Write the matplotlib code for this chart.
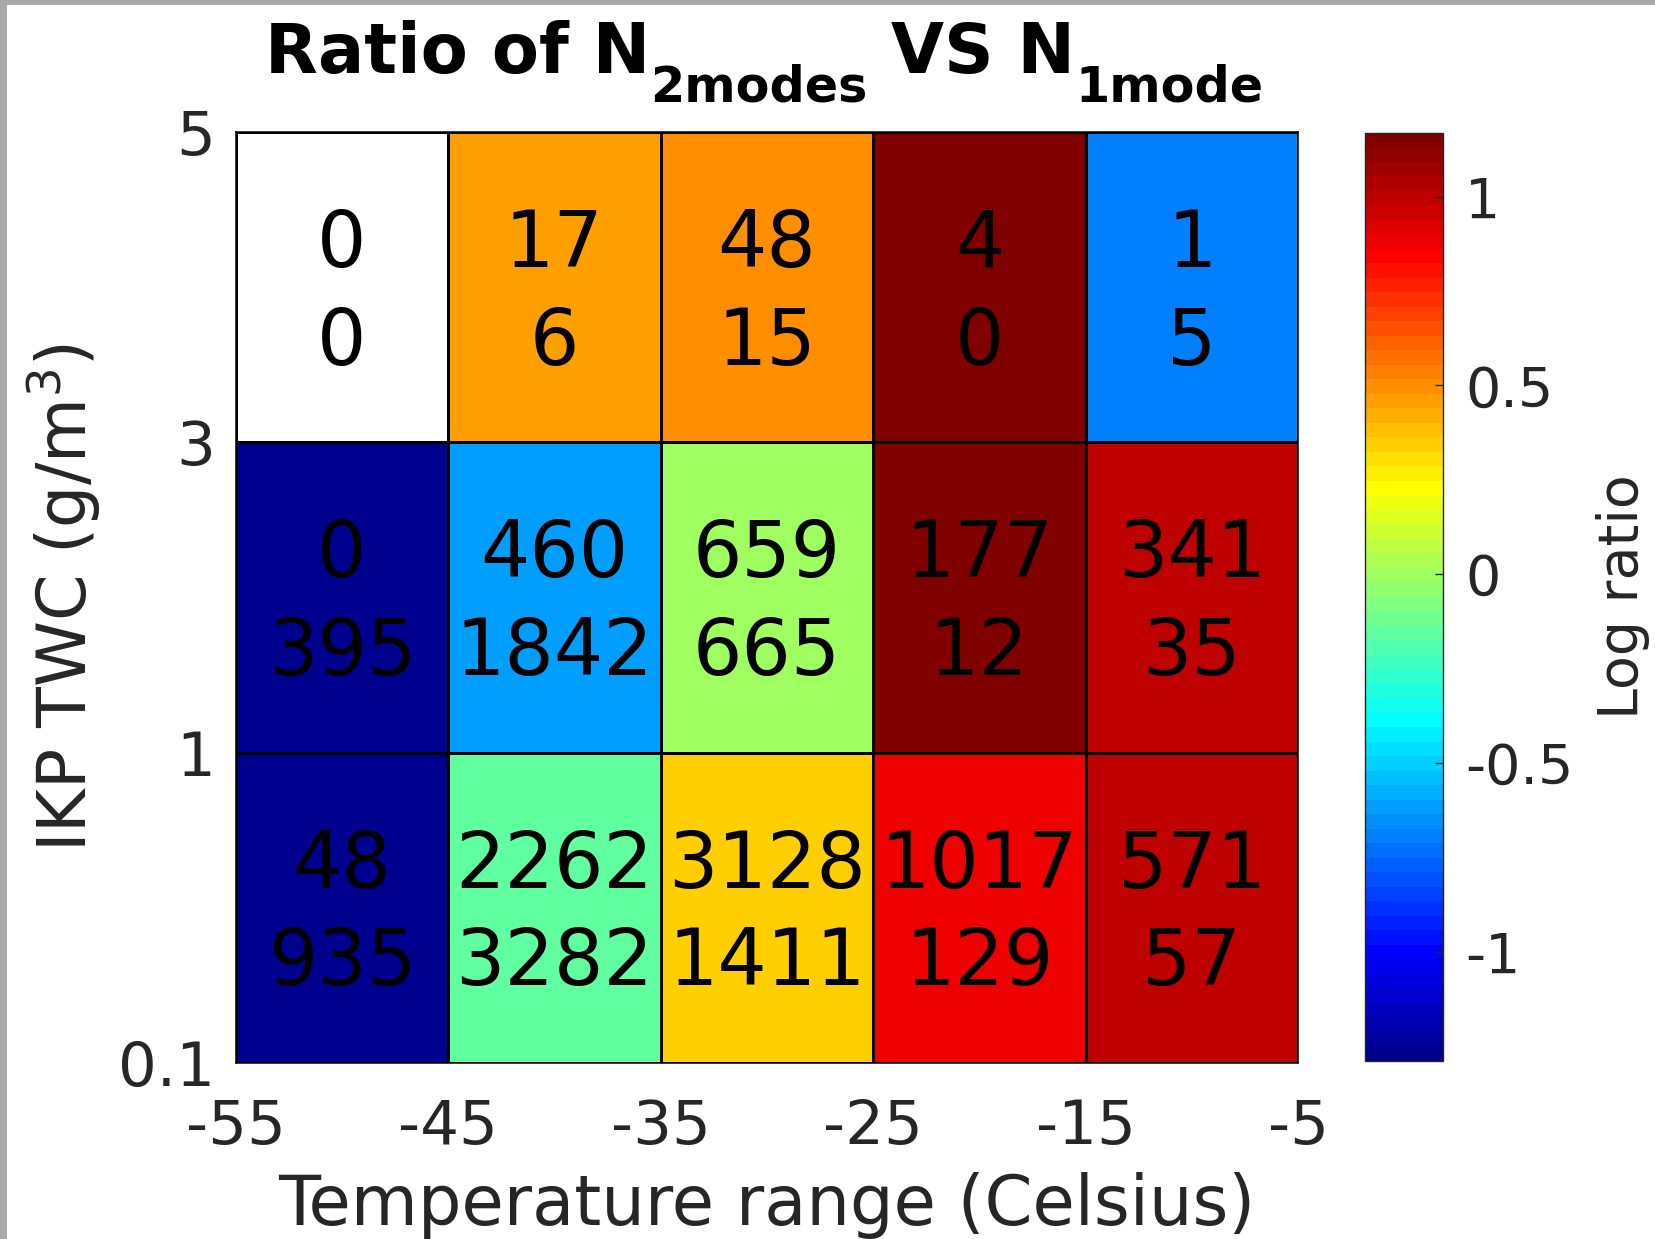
import numpy as np
import matplotlib

matplotlib.use("Agg")
import matplotlib.pyplot as plt
from matplotlib.colors import ListedColormap, Normalize
from matplotlib.patches import Rectangle
from matplotlib.transforms import IdentityTransform

plt.rcParams["font.family"] = "DejaVu Sans"
plt.rcParams["axes.unicode_minus"] = False
plt.rcParams["mathtext.fontset"] = "dejavusans"

# bin edges
temp_edges = [-55, -45, -35, -25, -15, -5]
twc_labels = ["0.1", "1", "3", "5"]

# counts per bin, rows go bottom (0.1-1) to top (3-5)
n_2modes = [
    [48, 2262, 3128, 1017, 571],
    [0, 460, 659, 177, 341],
    [0, 17, 48, 4, 1],
]
n_1mode = [
    [935, 3282, 1411, 129, 57],
    [395, 1842, 665, 12, 35],
    [0, 6, 15, 0, 5],
]

cbar_ticks = [-1, -0.5, 0, 0.5, 1]
cbar_tick_labels = ["-1", "-0.5", "0", "0.5", "1"]

INK = "#262626"
W, H, DPI = 1656, 1239, 100


def matlab_jet(m=64):
    """Same table as MATLAB's jet(m)."""
    n = int(np.ceil(m / 4))
    u = np.concatenate([np.arange(1, n + 1) / n, np.ones(n - 1), np.arange(n, 0, -1) / n])
    g = int(np.ceil(n / 2)) - int(m % 4 == 1) + np.arange(1, len(u) + 1)
    r = g + n
    b = g - n
    g = g[g <= m]
    r = r[r <= m]
    b = b[b >= 1]
    J = np.zeros((m, 3))
    J[r - 1, 0] = u[: len(r)]
    J[g - 1, 1] = u[: len(g)]
    J[b - 1, 2] = u[len(u) - len(b):]
    cmap = ListedColormap(J)
    cmap.set_bad("white")
    return cmap


def draw_title(fig, pieces, center_px, baseline_px):
    """Lay out text pieces left to right, subscripts dropped below the baseline."""
    renderer = fig.canvas.get_renderer()
    placed = []
    x = 0.0
    for s, size, drop in pieces:
        t = fig.text(0, 0, s, fontsize=size, fontweight="bold", color="black",
                     ha="left", va="baseline", transform=IdentityTransform())
        placed.append((t, x, drop))
        x += t.get_window_extent(renderer).width
    x0 = center_px - x / 2
    for t, dx, drop in placed:
        t.set_position((x0 + dx, H - baseline_px - drop))


a2 = np.array(n_2modes, dtype=float)
a1 = np.array(n_1mode, dtype=float)
with np.errstate(divide="ignore", invalid="ignore"):
    ratio = np.log10(a2 / a1)
finite = ratio[np.isfinite(ratio)]
vmin, vmax = finite.min(), finite.max()
shown = np.clip(ratio, vmin, vmax)  # +/-inf go to the ends, 0/0 stays NaN

fig = plt.figure(figsize=(W / DPI, H / DPI), dpi=DPI)
fig.patch.set_facecolor("white")

ax = fig.add_axes([0.1423, 0.1420, 0.6416, 0.7514])
cax = fig.add_axes([0.8243, 0.1437, 0.0471, 0.749])

y_idx = np.arange(len(twc_labels))
cmap = matlab_jet(64)
mesh = ax.pcolormesh(temp_edges, y_idx, shown, cmap=cmap,
                     norm=Normalize(vmin=vmin, vmax=vmax),
                     edgecolor="black", linewidth=0.8)

for i in range(a2.shape[0]):
    for j in range(a2.shape[1]):
        xc = (temp_edges[j] + temp_edges[j + 1]) / 2
        ax.text(xc, i + 0.565, f"{int(a2[i, j])}", ha="center", va="baseline",
                fontsize=56, color="black")
        ax.text(xc, i + 0.25, f"{int(a1[i, j])}", ha="center", va="baseline",
                fontsize=56, color="black")

ax.set_xlim(temp_edges[0], temp_edges[-1])
ax.set_ylim(y_idx[0], y_idx[-1])
ax.set_xticks(temp_edges)
ax.set_xticklabels([str(t) for t in temp_edges])
ax.set_yticks(y_idx)
ax.set_yticklabels(twc_labels)
ax.tick_params(axis="both", length=0, labelsize=44, labelcolor=INK)
ax.tick_params(axis="x", pad=25)
ax.tick_params(axis="y", pad=15)
for sp in ax.spines.values():
    sp.set_color("black")
    sp.set_linewidth(1.1)

ax.set_xlabel("Temperature range (Celsius)", fontsize=49.5, color=INK, va="baseline")
ax.xaxis.set_label_coords(0.5, -0.174)
ax.set_ylabel(r"IKP TWC (g/m$^3$)", fontsize=48, color=INK, va="baseline")
ax.yaxis.set_label_coords(-0.140, 0.5)

cb = fig.colorbar(mesh, cax=cax)
cb.set_ticks(cbar_ticks, labels=cbar_tick_labels)
cb.ax.tick_params(direction="in", length=6, width=1, color=INK,
                  labelsize=40, labelcolor=INK, pad=16)
cb.outline.set_edgecolor(INK)
cb.outline.set_linewidth(1.0)
cb.set_label("Log ratio", fontsize=40, color=INK)
cb.ax.yaxis.label.set_verticalalignment("baseline")
cb.ax.yaxis.set_label_coords(3.50, 0.5)

draw_title(fig, [("Ratio of N", 49.5, 0), ("2modes", 35.5, 29),
                 (" VS N", 49.5, 0), ("1mode", 35.5, 29)],
           center_px=764, baseline_px=73)

# grey frame along the top and left edges
fig.patches.append(Rectangle((0, 0), 7 / W, 1, transform=fig.transFigure,
                             facecolor="#a9a9a9", edgecolor="none", zorder=10))
fig.patches.append(Rectangle((0, 1 - 5 / H), 1, 5 / H, transform=fig.transFigure,
                             facecolor="#a9a9a9", edgecolor="none", zorder=10))

fig.savefig("out.png", dpi=DPI, facecolor="white")
